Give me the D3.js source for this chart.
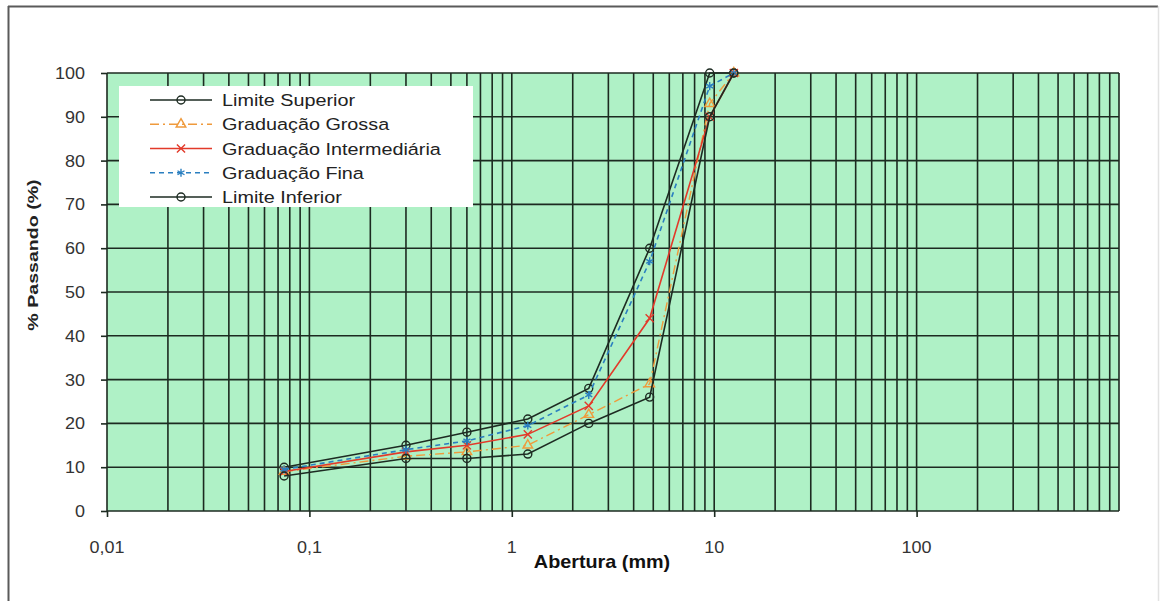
<!DOCTYPE html>
<html>
<head>
<meta charset="utf-8">
<script src="https://cdnjs.cloudflare.com/ajax/libs/d3/7.8.5/d3.min.js"></script>
<style>
  body { margin: 0; background: #fff; }
  svg text { font-family: "Liberation Sans", Arial, sans-serif; }
</style>
</head>
<body>
<svg id="chart" width="1161" height="601"></svg>
<script>
// sieve openings (mm) and % passing
const aberturas = [0.075, 0.3, 0.6, 1.2, 2.4, 4.8, 9.5, 12.5];
const limiteSuperior = [10, 15, 18, 21, 28, 60, 100, 100];
const gradGrossa = [9, 12.5, 13.5, 15, 22, 29, 93, 100];
const gradIntermediaria = [9, 13.5, 15, 17.5, 24, 44, 90, 100];
const gradFina = [9.5, 14, 16, 19.5, 26.5, 57, 97, 100];
const limiteInferior = [8, 12, 12, 13, 20, 26, 90, 100];

const seriesNames = ["Limite Superior", "Graduação Grossa", "Graduação Intermediária", "Graduação Fina", "Limite Inferior"];
const xTicks = [0.01, 0.1, 1, 10, 100];
const yTicks = [0, 10, 20, 30, 40, 50, 60, 70, 80, 90, 100];

let svg = d3.select("#chart"),
	plot = {left: 107, right: 1119, top: 73, bottom: 511};

let colorGrid = "#1c2a20",
	colorLimit = "#1d2b22",
	colorOrange = "#ef9a3c",
	colorRed = "#e23a2a",
	colorBlue = "#2a7fc0",
	colorGreen = "#aff1c6";

let ptBR = d3.formatLocale({decimal: ",", thousands: ".", grouping: [3], currency: ["R$", ""]});
let fmt = ptBR.format("~g");

//scales
let x = d3.scaleLog().domain([0.01, 1000]).range([plot.left, plot.right]),
	y = d3.scaleLinear().domain([0, 100]).range([plot.bottom, plot.top]);

// text in the picture is a bit stretched sideways
function wideText(parent, px, py, str, sx) {
	return parent.append("text")
		.attr("transform", "translate(" + px + "," + py + ") scale(" + sx + ",1)")
		.text(str);
}

//outer frame
svg.append("line").attr("x1", 8.5).attr("x2", 8.5).attr("y1", 6).attr("y2", 601)
	.attr("stroke", "#5a5a5a").attr("stroke-width", 2);
svg.append("line").attr("x1", 8).attr("x2", 1158).attr("y1", 6.5).attr("y2", 6.5)
	.attr("stroke", "#5a5a5a").attr("stroke-width", 2);
svg.append("line").attr("x1", 1158.5).attr("x2", 1158.5).attr("y1", 6).attr("y2", 601)
	.attr("stroke", "#e2e2e2").attr("stroke-width", 1.5);

//plot background
svg.append("rect")
	.attr("x", plot.left).attr("y", plot.top)
	.attr("width", plot.right - plot.left).attr("height", plot.bottom - plot.top)
	.attr("fill", colorGreen);

//log grid: every 1..9 of each decade
let gridX = [];
for (let e = -2; e <= 2; e++) {
	for (let k = 1; k <= 9; k++) gridX.push(k * Math.pow(10, e));
}
gridX.push(1000);

let grid = svg.append("g").attr("class", "grid");
grid.selectAll("line.v")
	.data(gridX)
	.enter().append("line")
	.attr("class", "v")
	.attr("x1", d => x(d)).attr("x2", d => x(d))
	.attr("y1", plot.top).attr("y2", plot.bottom)
	.attr("stroke", colorGrid).attr("stroke-width", 1.6);

grid.selectAll("line.h")
	.data(yTicks)
	.enter().append("line")
	.attr("class", "h")
	.attr("x1", plot.left).attr("x2", plot.right)
	.attr("y1", d => y(d)).attr("y2", d => y(d))
	.attr("stroke", colorGrid).attr("stroke-width", 1.6);

//axes: ticks outside the plot, labels drawn by hand to keep the stretch
let yAxis = svg.append("g").attr("transform", "translate(" + plot.left + ",0)")
	.call(d3.axisLeft(y).tickValues(yTicks).tickSize(6).tickFormat(""));
let xAxis = svg.append("g").attr("transform", "translate(0," + plot.bottom + ")")
	.call(d3.axisBottom(x).tickValues(xTicks).tickSize(6).tickFormat(""));
[yAxis, xAxis].forEach(function(a) {
	a.select(".domain").remove();
	a.selectAll(".tick line").attr("stroke", colorGrid).attr("stroke-width", 1.6);
});

let labels = svg.append("g").attr("fill", "#333").style("font-size", "17px");
yTicks.forEach(function(t) {
	wideText(labels, 85, y(t) + 6, fmt(t), 1.06).attr("text-anchor", "end");
});
xTicks.forEach(function(t) {
	wideText(labels, x(t), 553, fmt(t), 1.06).attr("text-anchor", "middle");
});

//axis titles
wideText(svg, 602, 568, "Abertura (mm)", 1.1)
	.attr("text-anchor", "middle")
	.style("font-size", "18px").style("font-weight", "bold").attr("fill", "#111");

svg.append("text")
	.attr("transform", "translate(38,255) rotate(-90) scale(1.4,1)")
	.attr("text-anchor", "middle")
	.style("font-size", "14px").style("font-weight", "bold").attr("fill", "#222")
	.text("% Passando (%)");

//series
let series = [
	{name: seriesNames[0], values: limiteSuperior, color: colorLimit, dash: null, marker: "circle", width: 1.6},
	{name: seriesNames[1], values: gradGrossa, color: colorOrange, dash: "9,4,2,4", marker: "triangle", width: 1.4},
	{name: seriesNames[2], values: gradIntermediaria, color: colorRed, dash: null, marker: "x", width: 1.6},
	{name: seriesNames[3], values: gradFina, color: colorBlue, dash: "5,4", marker: "star", width: 1.6},
	{name: seriesNames[4], values: limiteInferior, color: colorLimit, dash: null, marker: "circle", width: 1.6}
];

let markerPath = {
	circle: d3.symbol().type(d3.symbolCircle).size(50),
	triangle: d3.symbol().type(d3.symbolTriangle).size(40),
	x: d3.symbol().type(d3.symbolTimes).size(45),
	star: d3.symbol().type(d3.symbolAsterisk).size(45)
};

function drawMarker(g, s, px, py) {
	g.append("path")
		.attr("d", markerPath[s.marker]())
		.attr("transform", "translate(" + px + "," + py + ")")
		.attr("fill", "none")
		.attr("stroke", s.color)
		.attr("stroke-width", 1.4);
}

let line = d3.line()
	.x(d => x(d[0]))
	.y(d => y(d[1]));

series.forEach(function(s) {
	let pts = aberturas.map((a, i) => [a, s.values[i]]);
	let g = svg.append("g").attr("class", "series");
	g.append("path")
		.datum(pts)
		.attr("d", line)
		.attr("fill", "none")
		.attr("stroke", s.color)
		.attr("stroke-width", s.width)
		.attr("stroke-dasharray", s.dash);
	pts.forEach(p => drawMarker(g, s, x(p[0]), y(p[1])));
});

//legend
let legend = svg.append("g").attr("class", "legend");
legend.append("rect")
	.attr("x", 119).attr("y", 86).attr("width", 354).attr("height", 121)
	.attr("fill", "#fff");

let rowY = d3.scalePoint().domain(seriesNames).range([100, 197]);
series.forEach(function(s) {
	let ly = rowY(s.name);
	legend.append("line")
		.attr("x1", 150).attr("x2", 212).attr("y1", ly).attr("y2", ly)
		.attr("stroke", s.color).attr("stroke-width", s.width)
		.attr("stroke-dasharray", s.dash);
	drawMarker(legend, s, 181, ly);
	wideText(legend, 222, ly + 6, s.name, 1.165)
		.style("font-size", "17px").attr("fill", "#222");
});
</script>
</body>
</html>
